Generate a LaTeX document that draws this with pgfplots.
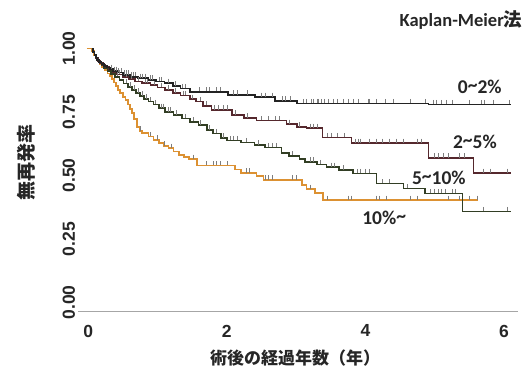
\documentclass[border=0pt]{standalone}
\usepackage{fontspec}
\setmainfont{Liberation Sans}
\newfontfamily\cjk{Noto Sans CJK JP}
\newfontfamily\carlito{Carlito}
\usepackage{pgfplots}
\pgfplotsset{compat=1.18}
\definecolor{c02}{RGB}{35,35,35}
\definecolor{c25}{RGB}{85,40,45}
\definecolor{c510}{RGB}{50,62,36}
\definecolor{c10}{RGB}{220,145,50}
\definecolor{cens}{RGB}{125,125,125}
\newcommand{\tld}{\raisebox{0.1em}{\char"007E\relax}}
\begin{document}
\begin{tikzpicture}
\begin{axis}[
 scale only axis, width=439.4pt, height=273.05pt,
 xmin=-0.14, xmax=6.2, ymin=-0.035, ymax=1.04,
 axis x line*=bottom, axis y line*=left,
 x axis line style={-, draw=black!35, line width=0.7pt},
 y axis line style={draw=none},
 major tick length=0pt,
 clip=false,
 xtick={0,2,4,6}, ytick={0,0.25,0.5,0.75,1},
 /pgf/number format/assume math mode=true,
 tick label style={font=\bfseries\fontsize{17.5}{20}\selectfont, text=black!85},
 xticklabel style={yshift=-10pt},
 yticklabel style={/pgf/number format/fixed, /pgf/number format/fixed zerofill, /pgf/number format/precision=2, rotate=90, anchor=south},
 xlabel={\cjk\bfseries 術後の経過年数（年）},
 xlabel style={font=\fontsize{17}{20}\selectfont, at={(axis description cs:0.493,-0.1707)}, anchor=center, text=black!85},
 ylabel={\cjk\bfseries 無再発率},
 ylabel style={font=\fontsize{19}{20}\selectfont, at={(axis description cs:-0.1195,0.547)}, anchor=center, text=black!85},
]
% censor marks
\addplot[only marks, color=cens, mark=|, mark size=2.2pt, mark options={line width=0.55pt, yshift=2.4pt}] coordinates {
(0.33,0.918)(0.38,0.911)(0.40,0.911)(0.44,0.905)(0.47,0.905)(0.52,0.896)(0.55,0.896)(0.58,0.896)(0.62,0.889)(0.65,0.889)(0.68,0.889)(0.75,0.883)(0.78,0.883)(0.82,0.883)(0.90,0.876)(0.93,0.876)(1.02,0.870)(1.05,0.870)(1.15,0.863)(1.25,0.853)(1.36,0.843)(1.40,0.843)(1.60,0.830)(1.70,0.830)(1.75,0.830)(1.85,0.830)(1.90,0.830)(2.10,0.817)(2.15,0.817)(2.30,0.817)(2.50,0.808)(2.55,0.808)(2.65,0.808)(2.80,0.794)(2.85,0.794)(2.92,0.794)(3.10,0.784)(3.15,0.784)(3.22,0.784)(3.25,0.784)(3.30,0.784)(3.32,0.784)(3.37,0.784)(3.41,0.784)(3.46,0.784)(3.54,0.784)(3.59,0.784)(3.68,0.784)(3.75,0.784)(3.82,0.784)(3.89,0.784)(4.04,0.784)(4.06,0.784)(4.16,0.784)(4.28,0.784)(4.40,0.784)(4.64,0.784)(4.86,0.784)(4.98,0.780)(5.02,0.780)(5.10,0.780)(5.17,0.780)(5.26,0.780)(5.50,0.780)(5.67,0.780)(5.72,0.780)(5.84,0.780)(6.08,0.780)
};
\addplot[only marks, color=cens, mark=|, mark size=2.2pt, mark options={line width=0.55pt, yshift=2.4pt}] coordinates {
(0.45,0.898)(0.55,0.888)(0.62,0.879)(0.72,0.870)(0.82,0.863)(0.85,0.863)(0.95,0.855)(1.05,0.846)(1.15,0.837)(1.26,0.826)(1.37,0.815)(1.40,0.815)(1.50,0.800)(1.62,0.791)(1.70,0.775)(1.82,0.758)(1.87,0.758)(1.95,0.758)(2.00,0.758)(2.12,0.738)(2.30,0.727)(2.50,0.716)(2.60,0.716)(2.70,0.716)(2.75,0.716)(2.90,0.702)(3.05,0.692)(3.20,0.686)(3.25,0.686)(3.30,0.686)(3.45,0.650)(3.50,0.650)(3.60,0.650)(3.70,0.650)(3.85,0.627)(3.90,0.627)(3.93,0.627)(4.05,0.627)(4.15,0.627)(4.25,0.627)(4.35,0.627)(4.45,0.627)(4.55,0.627)(4.75,0.627)(4.80,0.627)(5.00,0.570)(5.05,0.570)(5.12,0.570)(5.20,0.570)(5.35,0.570)(5.42,0.570)(5.70,0.509)(5.80,0.509)(6.05,0.509)
};
\addplot[only marks, color=cens, mark=|, mark size=2.2pt, mark options={line width=0.55pt, yshift=2.4pt}] coordinates {
(0.42,0.889)(0.55,0.862)(0.60,0.849)(0.66,0.837)(0.72,0.825)(0.78,0.813)(0.84,0.802)(0.90,0.791)(0.97,0.780)(1.05,0.765)(1.08,0.765)(1.15,0.751)(1.18,0.751)(1.27,0.738)(1.40,0.725)(1.52,0.712)(1.62,0.699)(1.75,0.680)(1.85,0.665)(1.95,0.648)(2.05,0.638)(2.10,0.638)(2.15,0.638)(2.28,0.630)(2.45,0.620)(2.60,0.610)(2.65,0.610)(2.72,0.610)(2.95,0.578)(3.20,0.553)(3.25,0.553)(3.35,0.543)(3.50,0.533)(3.55,0.533)(3.68,0.522)(3.88,0.508)(3.93,0.508)(4.00,0.508)(4.06,0.508)(4.25,0.468)(4.35,0.468)(4.60,0.449)(4.93,0.429)(5.00,0.429)(5.05,0.429)(5.10,0.429)(5.15,0.429)(5.25,0.429)(5.30,0.429)(5.70,0.358)(6.05,0.358)
};
\addplot[only marks, color=cens, mark=|, mark size=2.2pt, mark options={line width=0.55pt, yshift=2.4pt}] coordinates {
(0.75,0.676)(0.90,0.653)(1.00,0.640)(1.10,0.617)(1.20,0.607)(1.52,0.564)(1.70,0.539)(1.80,0.539)(1.85,0.539)(1.90,0.539)(2.00,0.539)(2.28,0.511)(2.32,0.511)(2.55,0.482)(2.60,0.482)(2.65,0.482)(2.95,0.482)(3.00,0.482)(3.20,0.446)(3.45,0.403)(3.75,0.403)(3.80,0.403)(4.15,0.403)(4.20,0.403)(4.30,0.403)(4.65,0.403)(4.75,0.403)(5.20,0.403)(5.35,0.403)(5.50,0.403)(5.62,0.403)
};
% 10%~
\addplot[const plot, color=c10, line width=1.7pt] coordinates {
(-0.02,1.0)(0.05,0.99)(0.08,0.975)(0.11,0.962)(0.14,0.950)(0.17,0.938)(0.20,0.928)(0.24,0.915)(0.28,0.902)(0.31,0.893)(0.34,0.880)(0.37,0.866)(0.40,0.852)(0.43,0.838)(0.46,0.824)(0.50,0.810)(0.54,0.797)(0.57,0.780)(0.60,0.762)(0.63,0.745)(0.66,0.722)(0.70,0.690)(0.74,0.676)(0.78,0.666)(0.87,0.653)(0.94,0.640)(1.02,0.627)(1.09,0.617)(1.16,0.607)(1.23,0.594)(1.31,0.581)(1.38,0.572)(1.45,0.564)(1.57,0.539)(2.12,0.524)(2.20,0.511)(2.43,0.498)(2.53,0.482)(3.08,0.463)(3.15,0.446)(3.27,0.430)(3.39,0.403)(5.62,0.403)
};
% 5~10%
\addplot[const plot, color=c510, line width=1.7pt] coordinates {
(0.05,1.0)(0.07,0.985)(0.09,0.972)(0.12,0.96)(0.15,0.948)(0.19,0.936)(0.23,0.924)(0.28,0.912)(0.33,0.900)(0.39,0.889)(0.45,0.875)(0.51,0.862)(0.57,0.849)(0.63,0.837)(0.69,0.825)(0.75,0.813)(0.81,0.802)(0.87,0.791)(0.94,0.780)(1.02,0.765)(1.11,0.751)(1.23,0.738)(1.35,0.725)(1.47,0.712)(1.59,0.699)(1.71,0.680)(1.80,0.665)(1.92,0.648)(2.00,0.638)(2.20,0.630)(2.40,0.620)(2.55,0.610)(2.79,0.588)(2.90,0.578)(3.05,0.566)(3.13,0.553)(3.30,0.543)(3.44,0.533)(3.62,0.522)(3.82,0.508)(4.16,0.468)(4.55,0.449)(4.86,0.429)(5.40,0.358)(6.10,0.358)
};
% 2~5%
\addplot[const plot, color=c25, line width=1.7pt] coordinates {
(0.05,1.0)(0.07,0.985)(0.09,0.972)(0.11,0.962)(0.14,0.952)(0.17,0.943)(0.21,0.934)(0.25,0.926)(0.30,0.918)(0.35,0.908)(0.42,0.898)(0.50,0.888)(0.58,0.879)(0.68,0.870)(0.78,0.863)(0.90,0.855)(1.00,0.846)(1.11,0.837)(1.22,0.826)(1.33,0.815)(1.47,0.800)(1.56,0.791)(1.66,0.775)(1.78,0.758)(2.07,0.738)(2.25,0.727)(2.43,0.716)(2.86,0.702)(3.01,0.692)(3.15,0.686)(3.38,0.650)(3.80,0.627)(4.91,0.570)(5.56,0.509)(6.10,0.509)
};
% 0~2%
\addplot[const plot, color=c02, line width=1.7pt] coordinates {
(0.05,1.0)(0.07,0.985)(0.09,0.975)(0.11,0.965)(0.13,0.955)(0.16,0.947)(0.19,0.940)(0.23,0.932)(0.27,0.925)(0.31,0.918)(0.36,0.911)(0.42,0.905)(0.50,0.896)(0.60,0.889)(0.72,0.883)(0.87,0.876)(0.98,0.870)(1.10,0.863)(1.22,0.853)(1.33,0.843)(1.47,0.830)(2.02,0.817)(2.41,0.808)(2.70,0.794)(3.01,0.784)(4.91,0.780)(6.10,0.780)
};
\begin{scope}[every node/.style={font=\carlito\bfseries\fontsize{19.5}{20}\selectfont, text=black!85, inner sep=0pt}]
\node at (axis cs:5.65,0.848) {0\tld 2\%};
\node at (axis cs:5.58,0.632) {2\tld 5\%};
\node at (axis cs:5.06,0.492) {5\tld 10\%};
\node at (axis cs:4.27,0.333) {10\%\tld};
\node at (axis description cs:0.8705,1.067) {\fontsize{18.5}{20}\selectfont Kaplan-Meier{\cjk\bfseries 法}};
\end{scope}
\end{axis}
\path[use as bounding box] (-78.5pt,-55.6pt) rectangle (453.5pt,311.4pt);
\end{tikzpicture}
\end{document}
